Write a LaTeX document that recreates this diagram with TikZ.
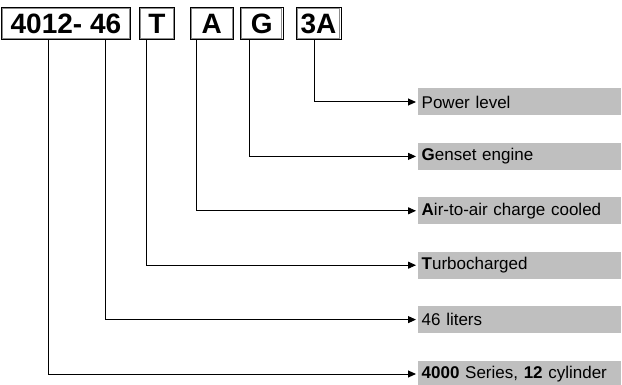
\documentclass[tikz,border=0pt]{standalone}
\usepackage{fontspec}
\setmainfont{Liberation Sans}
\usetikzlibrary{positioning}
\usetikzlibrary{arrows.meta}

\tikzset{
  idbox/.style={draw=black, line width=0.9pt, minimum height=32pt, inner sep=0pt,
    font=\fontsize{28}{30}\selectfont\bfseries,
    path picture={\draw[black!45, line width=0.7pt]
      ([shift={(1.4pt,-1.4pt)}]path picture bounding box.north west) rectangle
      ([shift={(-1.4pt,1.4pt)}]path picture bounding box.south east);}},
  desc/.style={fill=black!25, minimum height=27pt, inner xsep=3.5pt, inner ysep=0pt,
    text width=196pt, align=left, font=\fontsize{17}{19}\selectfont},
  conn/.style={line width=1pt, shorten >=2pt, -{Triangle[length=8pt,width=7pt]}},
}

\begin{document}
\begin{tikzpicture}[x=1pt,y=-1pt]
    \useasboundingbox (0,0) rectangle (622,385);
        \node[idbox, minimum width=129pt, anchor=north west] (b1) at (1,7) {4012- 46};
        \node[idbox, minimum width=35pt] (b2) [right=8pt of b1] {T};
        \node[idbox, minimum width=43pt] (b3) [right=15pt of b2] {A};
        \node[idbox, minimum width=43pt] (b4) [right=6pt of b3] {G};
        \node[idbox, minimum width=45pt] (b5) [right=12pt of b4] {3A};
        \node[desc, anchor=west] (d1) at (418,102) {Power level};
        \node[desc] (d2) [below=27pt of d1] {\textbf{G}enset engine};
        \node[desc] (d3) [below=27pt of d2] {\textbf{A}ir-to-air charge cooled};
        \node[desc] (d4) [below=27pt of d3] {\textbf{T}urbocharged};
        \node[desc] (d5) [below=27pt of d4] {46 liters};
        \node[desc] (d6) [below=27pt of d5] {\textbf{4000} Series, \textbf{12} cylinder};
        \draw[conn] ([xshift=-4.5pt]b5.south) |- (d1.west);
        \draw[conn] ([xshift=-12.5pt]b4.south) |- (d2.west);
        \draw[conn] ([xshift=-15.5pt]b3.south) |- (d3.west);
        \draw[conn] ([xshift=-10.5pt]b2.south) |- (d4.west);
        \draw[conn] ([xshift=39.5pt]b1.south) |- (d5.west);
        \draw[conn] ([xshift=-17.5pt]b1.south) |- (d6.west);
    \end{tikzpicture}
\end{document}
